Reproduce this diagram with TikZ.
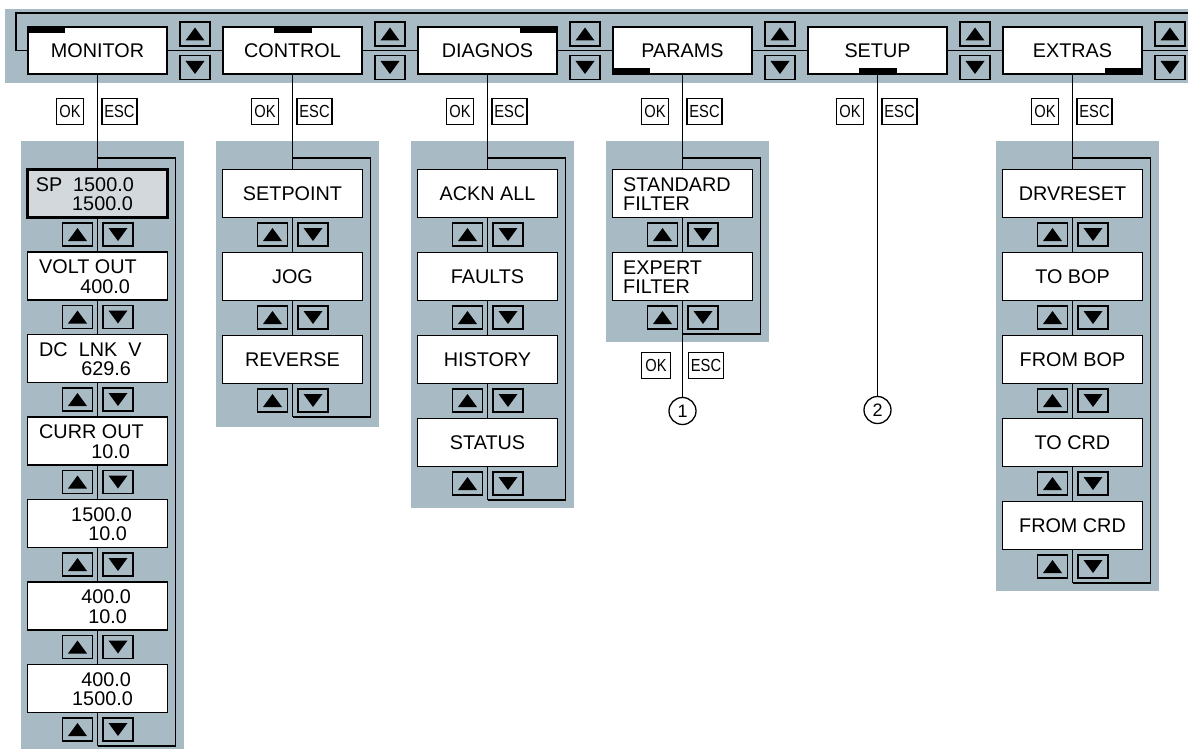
\documentclass[tikz,border=0pt]{standalone}
\usepackage{fontspec}
\setmainfont{Liberation Sans}
\newfontfamily\keyfont[FakeStretch=0.84]{Liberation Sans}
\pgfdeclarelayer{bg}
\pgfdeclarelayer{mid}
\pgfsetlayers{bg,mid,main}
\definecolor{panel}{RGB}{168,186,196}
\definecolor{spfill}{RGB}{210,216,220}
\tikzset{
  big/.style={font=\fontsize{19.8}{19}\selectfont},
  topbox/.style={draw, line width=1.4pt, fill=white, minimum width=139pt, minimum height=47pt, inner sep=0pt, big},
  itembox/.style={draw, line width=1.4pt, fill=white, minimum width=140pt, minimum height=48pt, inner sep=0pt, big},
  txt/.style={inner sep=0pt, big},
  keybox/.style={draw, line width=1.2pt, fill=white, minimum height=26pt, inner sep=0pt, font=\keyfont\fontsize{17.5}{17.5}\selectfont},
  btn/.style={draw, line width=1.5pt, fill=panel, minimum width=30pt, minimum height=23pt, inner sep=0pt},
  upbtn/.style={btn, path picture={\fill[black] ([xshift=-9.5pt,yshift=-6.5pt]path picture bounding box.center) -- ([xshift=9.5pt,yshift=-6.5pt]path picture bounding box.center) -- ([yshift=6.5pt]path picture bounding box.center) -- cycle;}},
  downbtn/.style={btn, path picture={\fill[black] ([xshift=-9.5pt,yshift=6.5pt]path picture bounding box.center) -- ([xshift=9.5pt,yshift=6.5pt]path picture bounding box.center) -- ([yshift=-6.5pt]path picture bounding box.center) -- cycle;}},
  ln/.style={draw, line width=1.3pt},
  numcirc/.style={draw, circle, line width=1.3pt, fill=white, minimum size=27pt, inner sep=0pt, font=\fontsize{18}{18}\selectfont},
}
\begin{document}
\begin{tikzpicture}[x=1pt, y=-1pt]
\useasboundingbox (0,0) rectangle (1188,749);
% ---------- backgrounds ----------
\begin{pgfonlayer}{bg}
  \fill[panel] (5,9) rectangle (1188,83);
  \fill[panel] (20.5,141) rectangle (183.5,749);
  \fill[panel] (215.5,141) rectangle (378.5,427);
  \fill[panel] (410.5,141) rectangle (573.5,508);
  \fill[panel] (605.5,141) rectangle (768.5,342);
  \fill[panel] (995.5,141) rectangle (1158.5,591);
\end{pgfonlayer}
% ---------- top menu bar ----------
\foreach \n/\t [count=\i from 0] in {mon/MONITOR,ctl/CONTROL,dia/DIAGNOS,par/PARAMS,set/SETUP,ext/EXTRAS} {
  \node[topbox] (\n) at (97.5+195*\i, 50.5) {\t};
  \node[upbtn, minimum height=24pt] (\n-u) at (195+195*\i, 34) {};
  \node[downbtn, minimum height=24pt] (\n-d) at (195+195*\i, 67.5) {};
  \node[keybox, minimum width=27pt] (\n-ok) at (70+195*\i, 111.5) {OK};
  \node[keybox, minimum width=35pt] (\n-esc) at (119.5+195*\i, 111.5) {ESC};
}
% position markers
\fill (mon.north west) rectangle ++(38,7);
\fill ([xshift=-19pt]ctl.north) rectangle ++(38,7);
\fill (dia.north east) rectangle ++(-38,7);
\fill (par.south west) rectangle ++(38,-7);
\fill ([xshift=-19pt]set.south) rectangle ++(38,-7);
\fill (ext.south east) rectangle ++(-38,-7);
\coordinate (tl) at (16,50.5);
\coordinate (tr) at (1188,13);
\coordinate (mr) at (1188,50.5);
% ---------- MONITOR column ----------
\foreach \k in {0,...,6} {
  \node[upbtn] (mon\k-u) at (77.5,234.5+82.5*\k) {};
  \node[downbtn] (mon\k-d) at (118,234.5+82.5*\k) {};
}
\node[itembox, line width=3pt, fill=spfill] (mon0) at (97.5,193.5) {};
\foreach \k in {1,...,6} {
  \node[itembox] (mon\k) at (97.5,193.5+82.5*\k) {};
}
\node[txt, anchor=base east] (mon0a) at (134,191) {SP~~1500.0};
\node[txt, anchor=base east] (mon0b) at (133,210.5) {1500.0};
\node[txt, anchor=base west] (mon1a) at (39,273.5) {VOLT OUT};
\node[txt, anchor=base east] (mon1b) at (130,293) {400.0};
\node[txt, anchor=base west] (mon2a) at (39,356) {DC~~LNK~~V};
\node[txt, anchor=base east] (mon2b) at (131,375.5) {629.6};
\node[txt, anchor=base west] (mon3a) at (39,438.5) {CURR OUT};
\node[txt, anchor=base east] (mon3b) at (130,458) {10.0};
\node[txt, anchor=base east] (mon4a) at (132,521) {1500.0};
\node[txt, anchor=base east] (mon4b) at (127,540.5) {10.0};
\node[txt, anchor=base east] (mon5a) at (131,603.5) {400.0};
\node[txt, anchor=base east] (mon5b) at (127,623) {10.0};
\node[txt, anchor=base east] (mon6a) at (131,686) {400.0};
\node[txt, anchor=base east] (mon6b) at (133,705.5) {1500.0};
\coordinate (mon-lt) at (97.5,158);
\coordinate (mon-lb) at (97.5,746);
% ---------- CONTROL column ----------
\foreach \t [count=\k from 0] in {SETPOINT,JOG,REVERSE} {
  \node[itembox] (ctl\k) at (292.5,193.5+83*\k) {\t};
  \node[upbtn] (ctl\k-u) at (272.5,234.5+83*\k) {};
  \node[downbtn] (ctl\k-d) at (313,234.5+83*\k) {};
}
\coordinate (ctl-lt) at (292.5,158);
\coordinate (ctl-lb) at (292.5,417);
% ---------- DIAGNOS column ----------
\foreach \t [count=\k from 0] in {ACKN ALL,FAULTS,HISTORY,STATUS} {
  \node[itembox] (dia\k) at (487.5,193.5+83*\k) {\t};
  \node[upbtn] (dia\k-u) at (467.5,234.5+83*\k) {};
  \node[downbtn] (dia\k-d) at (508,234.5+83*\k) {};
}
\coordinate (dia-lt) at (487.5,158);
\coordinate (dia-lb) at (487.5,500);
% ---------- PARAMS column ----------
\foreach \k in {0,1} {
  \node[itembox] (par\k) at (682.5,193.5+83*\k) {};
  \node[upbtn] (par\k-u) at (662.5,234.5+83*\k) {};
  \node[downbtn] (par\k-d) at (703,234.5+83*\k) {};
}
\node[txt, anchor=base west] (par0a) at (623,191) {STANDARD};
\node[txt, anchor=base west] (par0b) at (623,210.5) {FILTER};
\node[txt, anchor=base west] (par1a) at (623,274) {EXPERT};
\node[txt, anchor=base west] (par1b) at (623,293.5) {FILTER};
\coordinate (par-lt) at (682.5,158);
\coordinate (par-lb) at (682.5,334);
\node[keybox, minimum width=29pt] (par-ok2) at (656,365.5) {OK};
\node[keybox, minimum width=35pt] (par-esc2) at (706,365.5) {ESC};
\node[numcirc] (c1) at (682.5,411) {1};
% ---------- SETUP ----------
\node[numcirc] (c2) at (877.5,410) {2};
% ---------- EXTRAS column ----------
\foreach \t [count=\k from 0] in {DRVRESET,TO BOP,FROM BOP,TO CRD,FROM CRD} {
  \node[itembox] (ext\k) at (1072.5,193.5+83*\k) {\t};
  \node[upbtn] (ext\k-u) at (1052.5,234.5+83*\k) {};
  \node[downbtn] (ext\k-d) at (1093,234.5+83*\k) {};
}
\coordinate (ext-lt) at (1072.5,158);
\coordinate (ext-lb) at (1072.5,583);
% ---------- connectors ----------
\begin{pgfonlayer}{mid}
  \draw[ln] (mon.west) -- (tl) |- (tr);
  \draw[ln] (mon.east) -- (ctl.west);
  \draw[ln] (ctl.east) -- (dia.west);
  \draw[ln] (dia.east) -- (par.west);
  \draw[ln] (par.east) -- (set.west);
  \draw[ln] (set.east) -- (ext.west);
  \draw[ln] (ext.east) -- (mr);
  \foreach \n in {mon,ctl,dia,ext} {
    \draw[ln] (\n.south) -- (\n-lb);
    \draw[ln] (\n-lt) -- ++(78,0) |- (\n-lb);
  }
  \draw[ln] (par.south) -- (c1.north);
  \draw[ln] (par-lt) -- ++(78,0) |- (par-lb);
  \draw[ln] (set.south) -- (c2.north);
\end{pgfonlayer}
\end{tikzpicture}
\end{document}
